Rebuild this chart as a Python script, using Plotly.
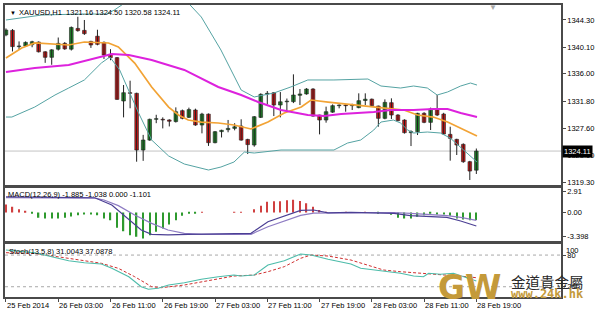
import plotly.graph_objects as go

# ---------------- data ----------------
opens = [1342.0, 1342.7, 1340.2, 1340.3, 1340.5, 1340.9, 1339.4, 1338.55, 1339.8, 1340.7,
         1339.8, 1343.0, 1342.7, 1341.0, 1341.8, 1340.85, 1339.0, 1338.5, 1331.82, 1333.1,
         1333.0, 1324.27, 1325.8, 1329.0, 1329.0, 1328.9, 1328.65, 1330.33, 1329.3, 1330.43,
         1328.12, 1329.8, 1325.4, 1327.1, 1327.4, 1327.6, 1327.97, 1325.9, 1325.04, 1329.3,
         1332.9, 1333.1, 1331.2, 1331.7, 1331.72, 1332.7, 1332.9, 1333.67, 1329.66, 1328.89,
         1330.1, 1331.1, 1331.2, 1331.1, 1330.8, 1331.9, 1332.1, 1331.05, 1329.15, 1331.56,
         1329.66, 1328.89, 1326.94, 1327.09, 1329.92, 1328.53, 1330.64, 1329.81, 1326.68, 1325.91,
         1325.14, 1322.47, 1321.16]
highs = [1343.0, 1342.9, 1341.0, 1341.0, 1341.1, 1341.0, 1339.5, 1339.8, 1341.6, 1340.9,
         1343.3, 1344.8, 1344.3, 1341.1, 1342.8, 1341.0, 1339.8, 1338.6, 1334.28, 1334.95,
         1333.1, 1326.6, 1329.1, 1329.7, 1329.3, 1329.0, 1330.84, 1330.5, 1330.8, 1330.64,
         1330.0, 1329.9, 1327.2, 1327.4, 1328.9, 1328.4, 1329.0, 1326.0, 1329.5, 1333.0,
         1333.36, 1333.2, 1333.2, 1332.2, 1335.93, 1333.67, 1333.8, 1333.8, 1329.7, 1330.95,
         1331.3, 1331.3, 1331.3, 1331.4, 1333.0, 1333.0, 1332.2, 1331.1, 1332.07, 1332.23,
         1329.8, 1329.0, 1327.3, 1330.0, 1330.1, 1330.8, 1332.74, 1330.0, 1327.86, 1326.0,
         1325.3, 1322.6, 1324.50]
lows = [1341.8, 1339.45, 1339.8, 1340.2, 1340.1, 1339.3, 1337.7, 1337.4, 1339.6, 1339.7,
        1339.6, 1342.5, 1342.0, 1340.0, 1340.4, 1338.3, 1338.1, 1332.0, 1329.3, 1330.7,
        1322.47, 1322.6, 1325.7, 1328.4, 1327.6, 1327.9, 1328.5, 1329.0, 1329.2, 1328.0,
        1326.84, 1324.9, 1325.3, 1326.2, 1327.0, 1327.3, 1325.7, 1323.65, 1324.78, 1329.2,
        1331.3, 1329.5, 1329.3, 1330.2, 1331.5, 1331.2, 1332.8, 1329.4, 1326.68, 1328.48,
        1330.0, 1330.69, 1330.17, 1330.43, 1330.7, 1331.2, 1331.0, 1327.86, 1329.0, 1329.05,
        1328.7, 1326.8, 1324.88, 1326.58, 1328.4, 1327.35, 1329.5, 1326.6, 1322.63, 1323.5,
        1322.3, 1319.65, 1320.58]
closes = [1342.75, 1340.2, 1340.3, 1340.85, 1340.95, 1339.4, 1338.55, 1339.7, 1340.7, 1339.85,
          1343.15, 1342.66, 1342.2, 1340.45, 1340.55, 1338.9, 1338.5, 1332.07, 1333.1, 1333.0,
          1324.27, 1325.81, 1329.0, 1329.1, 1328.9, 1328.7, 1330.17, 1329.15, 1330.5, 1328.12,
          1329.8, 1325.4, 1327.09, 1327.3, 1327.6, 1327.85, 1325.8, 1325.1, 1329.4, 1332.85,
          1333.0, 1331.2, 1331.7, 1331.8, 1332.74, 1332.9, 1333.67, 1329.5, 1328.89, 1330.17,
          1331.1, 1331.2, 1331.1, 1331.2, 1331.87, 1332.1, 1331.1, 1329.15, 1331.61, 1329.66,
          1328.79, 1326.94, 1327.1, 1329.92, 1328.53, 1330.59, 1329.66, 1326.73, 1326.07, 1325.04,
          1322.47, 1321.03, 1324.11]

bb_up_x = [0, 5.5, 11.6, 15.4, 16.6, 19, 22, 25, 27.9, 29.9, 32.9, 36.0, 38.0, 41.0, 43.6,
           46.2, 50.2, 55.4, 57.4, 60.4, 62.4, 64.5, 66.0, 67.6, 69.6, 71.1, 72.1]
bb_up = [1344.30, 1345.07, 1345.22, 1345.22, 1345.84, 1347.5, 1348.8, 1348.5, 1346.92, 1344.76,
         1339.68, 1333.51, 1332.44, 1333.05, 1333.98, 1335.06, 1335.06, 1335.21, 1334.13, 1333.82,
         1334.13, 1333.82, 1332.74, 1333.21, 1334.13, 1334.59, 1334.28]
bb_lo_x = [0, 0.9, 4.4, 7.5, 9.6, 12.0, 14.6, 15.9, 17.4, 19.2, 20.3, 22.3, 24.9, 27.3, 31.0,
           32.9, 34.9, 36.5, 38.0, 42.1, 46.2, 50.2, 52.3, 54.3, 56.3, 57.4, 59.3, 60.4, 61.5,
           62.4, 64.5, 66.5, 68.0, 70.6, 72.1]
bb_lo = [1329.35, 1329.35, 1330.89, 1332.74, 1333.82, 1335.06, 1337.67, 1338.60, 1336.60, 1332.44,
         1329.97, 1325.81, 1323.35, 1322.11, 1321.19, 1321.65, 1322.42, 1323.96, 1323.81, 1324.27,
         1324.27, 1324.27, 1325.35, 1325.81, 1327.35, 1328.58, 1328.89, 1328.43, 1327.35, 1326.89,
         1327.04, 1326.89, 1326.12, 1323.81, 1322.42]
ma_fast_x = [0, 2.4, 4.4, 9.6, 12.0, 15.7, 17.2, 19.7, 22.3, 24.9, 26.4, 27.9, 29.9, 32.5, 34.9,
             37.5, 40.1, 42.6, 45.2, 46.7, 49.3, 53.8, 57.8, 60.9, 63.0, 65.4, 67.6, 69.6, 72.1]
ma_fast = [1338.45, 1339.99, 1340.76, 1340.45, 1340.91, 1340.76, 1340.14, 1337.67, 1333.98, 1330.89,
           1329.66, 1328.89, 1328.58, 1328.43, 1328.12, 1327.51, 1328.58, 1329.97, 1330.89, 1331.97,
           1331.66, 1331.20, 1330.74, 1330.43, 1329.66, 1329.35, 1328.58, 1327.66, 1326.43]
ma_slow_x = [0, 4.4, 9.6, 14.6, 16.2, 18.8, 22.3, 27.3, 32.5, 36.0, 38.6, 42.1, 46.2, 48.7, 51.3,
             56.3, 58.9, 62.4, 65.4, 67.6, 69.6, 72.1]
ma_slow = [1336.29, 1336.90, 1337.37, 1338.60, 1339.06, 1338.91, 1338.14, 1336.60, 1333.98, 1332.74,
           1331.67, 1330.43, 1329.66, 1329.51, 1329.82, 1330.12, 1330.43, 1330.43, 1330.59, 1330.59,
           1329.97, 1329.35]

macd_hist = [1.12, 0.79, 0.47, 0.19, -0.05, -0.75, -0.84, -0.84, -0.84, -0.75,
             -0.56, -0.37, -0.28, -0.28, -0.37, -0.84, -1.07, -2.15, -2.62, -3.18,
             -3.41, -3.64, -3.18, -2.71, -2.24, -1.68, -1.07, -0.47, -0.14, -0.03,
             0.10, 0.0, 0.0, 0.0, 0.0, 0.05, 0.05, 0.0, 0.47, 0.93,
             1.50, 1.59, 1.59, 1.73, 1.80, 1.60, 1.30, 0.80, 0.35, 0.10,
             0.0, 0.0, 0.05, 0.0, 0.0, 0.05, 0.0, -0.05, 0.0, -0.30,
             -0.75, -0.84, -0.84, -0.61, -0.37, -0.05, -0.28, -0.28, -0.47, -0.84,
             -0.98, -1.07, -1.038]
macd_x = [0, 7, 13.6, 16.2, 18.7, 20.7, 22.3, 24.8, 27.9, 32.5, 37.5, 40.1, 42.6, 45.1, 47.1,
          49.3, 52.8, 59.4, 61.9, 64.5, 67.5, 69.6, 72]
macd_main = [2.20, 2.17, 2.07, 1.05, -0.82, -2.45, -3.06, -3.15, -3.06, -2.97, -2.92, -1.29, -0.45,
             0.30, 0.35, -0.05, 0.03, -0.12, -0.45, -0.59, -0.68, -1.19, -1.885]
sig_x = [0, 13.6, 15, 17.2, 19.7, 22.3, 24.8, 27.3, 29.9, 37.5, 40.1, 42.6, 45.1, 47.1, 49.3,
         52.8, 59.4, 61.9, 64.5, 67.5, 69.6, 72]
macd_signal = [2.07, 2.02, 1.75, 0.96, -0.35, -1.52, -2.45, -2.92, -3.06, -3.06, -1.99, -1.19,
               -0.40, -0.10, -0.10, 0.0, 0.0, -0.12, -0.26, -0.45, -0.68, -1.101]

stk_x = [0, 4.4, 7.0, 9.6, 12.0, 14.6, 16.2, 18.8, 20.7, 21.8, 23.3, 24.9, 27.3, 29.9, 32.5, 34.9,
         36.0, 38.0, 40.1, 42.6, 45.1, 46.7, 49.3, 52.8, 54.3, 56.9, 60.4, 62.4, 63.9, 64.7, 66.5,
         68.5, 70.6, 72]
stoch_main = [89.6, 84.5, 76.9, 69.3, 65.5, 63.1, 54.9, 39.0, 20.1, 15.2, 17.0, 23.3, 27.7, 34.1,
              39.0, 42.2, 40.3, 42.2, 61.2, 69.3, 82.0, 80.1, 72.0, 63.1, 54.9, 50.4, 45.5, 40.3,
              39.0, 45.5, 43.6, 45.5, 36.0, 31.0043]
sts_x = [0, 4.4, 9.6, 14.6, 17.2, 19.7, 22.3, 23.8, 27.3, 29.9, 34.9, 38.0, 40.1, 42.6, 45.1, 46.7,
         49.3, 52.8, 55.4, 57.8, 60.4, 63.9, 65.4, 68.0, 70.6, 72]
stoch_signal = [84.5, 83.0, 73.8, 64.4, 54.9, 39.0, 20.1, 18.2, 23.3, 29.5, 40.3, 42.2, 48.5, 58.0,
                73.9, 80.1, 78.2, 70.6, 61.2, 51.7, 48.5, 45.5, 43.6, 42.0, 39.0, 37.0878]

time_labels = ["25 Feb 2014", "26 Feb 03:00", "26 Feb 11:00", "26 Feb 19:00", "27 Feb 03:00",
               "27 Feb 11:00", "27 Feb 19:00", "28 Feb 03:00", "28 Feb 11:00", "28 Feb 19:00"]
time_label_bars = [0, 8, 16, 24, 32, 40, 48, 56, 64, 72]
price_ticks = [1344.30, 1340.10, 1336.00, 1331.80, 1327.60, 1323.50, 1319.30]
macd_ticks = [2.91, 0.0, -3.398]
macd_tick_text = ["2.91", "0.00", "-3.398"]
stoch_levels = [80, 20]
last_price = 1324.11
title_text = "XAUUSD,H1  1321.16 1324.50 1320.58 1324.11"
macd_text = "MACD(12,26,9) -1.885 -1.038 0.000 -1.101"
stoch_text = "Stoch(13,5,8) 31.0043 37.0878"

# ---------------- layout geometry ----------------
W, H = 600, 312
ML, MR, MT, MB = 3, 39, 5, 15
PW, PH = W - ML - MR, H - MT - MB


def pxx(px):
    return (px - ML) / PW


def pxy(py):
    return 1 - (py - MT) / PH


dom_main = [pxy(185), 1]
dom_macd = [pxy(242), pxy(187.7)]
dom_stoch = [0, pxy(243.3)]
xr = [-0.15, 84.96]

FONT = "Liberation Sans"
FS = 7.5
FRAME = "#4a4a4a"

fig = go.Figure()

# candles
n = len(opens)
bars = list(range(n))
wx, wy = [], []
for i in bars:
    wx += [i, i, None]
    wy += [lows[i], highs[i], None]
fig.add_trace(go.Scatter(x=wx, y=wy, mode="lines", line=dict(color="#202020", width=1),
                         xaxis="x", yaxis="y", hoverinfo="skip"))
for up, col in [(True, "#1f8a2a"), (False, "#d01818")]:
    xs, bs, hs = [], [], []
    for i in bars:
        if (closes[i] >= opens[i]) == up:
            xs.append(i)
            bs.append(min(opens[i], closes[i]))
            hs.append(max(abs(closes[i] - opens[i]), 0.06))
    fig.add_trace(go.Bar(x=xs, y=hs, base=bs, width=0.56, marker=dict(color=col, line=dict(color="#202020", width=0.6)),
                         xaxis="x", yaxis="y", hoverinfo="skip"))

# bands & MAs
fig.add_trace(go.Scatter(x=bb_up_x, y=bb_up, mode="lines", line=dict(color="#55a3a3", width=1), xaxis="x", yaxis="y"))
fig.add_trace(go.Scatter(x=bb_lo_x, y=bb_lo, mode="lines", line=dict(color="#55a3a3", width=1), xaxis="x", yaxis="y"))
fig.add_trace(go.Scatter(x=ma_fast_x, y=ma_fast, mode="lines", line=dict(color="#f2a335", width=1.7), xaxis="x", yaxis="y"))
fig.add_trace(go.Scatter(x=ma_slow_x, y=ma_slow, mode="lines", line=dict(color="#dd22dd", width=2), xaxis="x", yaxis="y"))

# MACD
hx_r = [i for i in bars if macd_hist[i] > 0]
hx_g = [i for i in bars if macd_hist[i] < 0]
fig.add_trace(go.Bar(x=hx_r, y=[macd_hist[i] for i in hx_r], width=0.2, marker=dict(color="#d04040", line=dict(width=0)),
                     xaxis="x2", yaxis="y2"))
fig.add_trace(go.Bar(x=hx_g, y=[macd_hist[i] for i in hx_g], width=0.2, marker=dict(color="#2e9a2e", line=dict(width=0)),
                     xaxis="x2", yaxis="y2"))
fig.add_trace(go.Scatter(x=sig_x, y=macd_signal, mode="lines", line=dict(color="#8e7cc3", width=1.2), xaxis="x2", yaxis="y2"))
fig.add_trace(go.Scatter(x=macd_x, y=macd_main, mode="lines", line=dict(color="#4b3f94", width=1.2), xaxis="x2", yaxis="y2"))

# Stochastic
fig.add_trace(go.Scatter(x=sts_x, y=stoch_signal, mode="lines", line=dict(color="#d03030", width=1, dash="3px,2px"),
                         xaxis="x3", yaxis="y3"))
fig.add_trace(go.Scatter(x=stk_x, y=stoch_main, mode="lines", line=dict(color="#4dbcaa", width=1.1), xaxis="x3", yaxis="y3"))

axis_common = dict(showline=True, mirror=True, linecolor=FRAME, linewidth=1.5, showgrid=False, zeroline=False)

shapes = [dict(type="line", xref="x domain", x0=0, x1=1, yref="y", y0=last_price, y1=last_price,
               line=dict(color="#c4c4c4", width=1), layer="below")]
for lv in stoch_levels:
    shapes.append(dict(type="line", xref="x3 domain", x0=0, x1=1, yref="y3", y0=lv, y1=lv,
                       line=dict(color="#a8a8a8", width=1, dash="dot"), layer="below"))

ann = []
ann.append(dict(xref="paper", yref="paper", x=pxx(6), y=pxy(12.5), text="▼", showarrow=False, xanchor="left",
                yanchor="middle", font=dict(family=FONT, size=6, color="#000")))
ann.append(dict(xref="paper", yref="paper", x=pxx(15), y=pxy(12.5), text=title_text, showarrow=False, xanchor="left",
                yanchor="middle", font=dict(family=FONT, size=FS, color="#000")))
ann.append(dict(xref="paper", yref="paper", x=pxx(493), y=pxy(7.5), text="▼", showarrow=False, xanchor="center",
                yanchor="middle", font=dict(family=FONT, size=8, color="#a8a8a8")))
ann.append(dict(xref="paper", yref="paper", x=pxx(4), y=pxy(194.5), text=macd_text, showarrow=False, xanchor="left",
                yanchor="middle", font=dict(family=FONT, size=FS, color="#000")))
ann.append(dict(xref="paper", yref="paper", x=pxx(5), y=pxy(251), text=stoch_text, showarrow=False, xanchor="left",
                yanchor="middle", font=dict(family=FONT, size=FS, color="#000")))
ann.append(dict(xref="paper", yref="paper", x=pxx(564), y=pxy(250.5), text="100", showarrow=False, xanchor="left",
                yanchor="middle", font=dict(family=FONT, size=FS, color="#000")))
ann.append(dict(xref="paper", yref="y", x=1, xshift=1, y=last_price, text=f"{last_price:.2f}", showarrow=False,
                xanchor="left", yanchor="middle", bgcolor="#000", borderpad=1,
                font=dict(family=FONT, size=FS, color="#fff")))
for b, t in zip(time_label_bars, time_labels):
    ann.append(dict(xref="x3", yref="paper", x=b, y=pxy(305), text=t, showarrow=False, xanchor="left", xshift=-1,
                    yanchor="middle", font=dict(family=FONT, size=FS, color="#000")))
# logo
ann.append(dict(xref="paper", yref="paper", x=pxx(470), y=pxy(287), text="<b>GW</b>", showarrow=False,
                xanchor="center", yanchor="middle", font=dict(family="DejaVu Sans", size=33, color="#c49a3a")))
ann.append(dict(xref="paper", yref="paper", x=pxx(547.5), y=pxy(281), text="金道貴金屬", showarrow=False,
                xanchor="center", yanchor="middle", font=dict(family="Noto Sans CJK TC", size=14.5, color="#2a2a2a")))
ann.append(dict(xref="paper", yref="paper", x=pxx(547), y=pxy(294), text="<b>www.24k.hk</b>", showarrow=False,
                xanchor="center", yanchor="middle", font=dict(family="DejaVu Sans Mono", size=12, color="#c49a3a")))

fig.update_layout(
    width=W, height=H, margin=dict(l=ML, r=MR, t=MT, b=MB),
    paper_bgcolor="#ffffff", plot_bgcolor="#ffffff", showlegend=False, hovermode=False,
    barmode="overlay",
    xaxis=dict(domain=[0, 1], range=xr, anchor="y", showticklabels=False, ticks="", **axis_common),
    xaxis2=dict(domain=[0, 1], range=xr, anchor="y2", matches="x", showticklabels=False, ticks="", **axis_common),
    xaxis3=dict(domain=[0, 1], range=xr, anchor="y3", matches="x", showticklabels=False, ticks="outside", ticklen=3,
                tickcolor=FRAME, tickvals=time_label_bars, **axis_common),
    yaxis=dict(domain=dom_main, range=[1318.88, 1346.61], side="right", anchor="x",
               tickvals=price_ticks, ticktext=[f"{v:.2f}" for v in price_ticks], ticks="outside", ticklen=3,
               tickcolor=FRAME, tickfont=dict(family=FONT, size=FS, color="#000"), **axis_common),
    yaxis2=dict(domain=dom_macd, range=[-4.135, 3.476], side="right", anchor="x2",
                tickvals=macd_ticks, ticktext=macd_tick_text, ticks="outside", ticklen=3,
                tickcolor=FRAME, tickfont=dict(family=FONT, size=FS, color="#000"), **axis_common),
    yaxis3=dict(domain=dom_stoch, range=[0.57, 102.3], side="right", anchor="x3",
                tickvals=stoch_levels, ticktext=[str(v) for v in stoch_levels], ticks="outside", ticklen=3,
                tickcolor=FRAME, tickfont=dict(family=FONT, size=FS, color="#000"), **axis_common),
    shapes=shapes, annotations=ann,
)

fig.write_html("out.html")
